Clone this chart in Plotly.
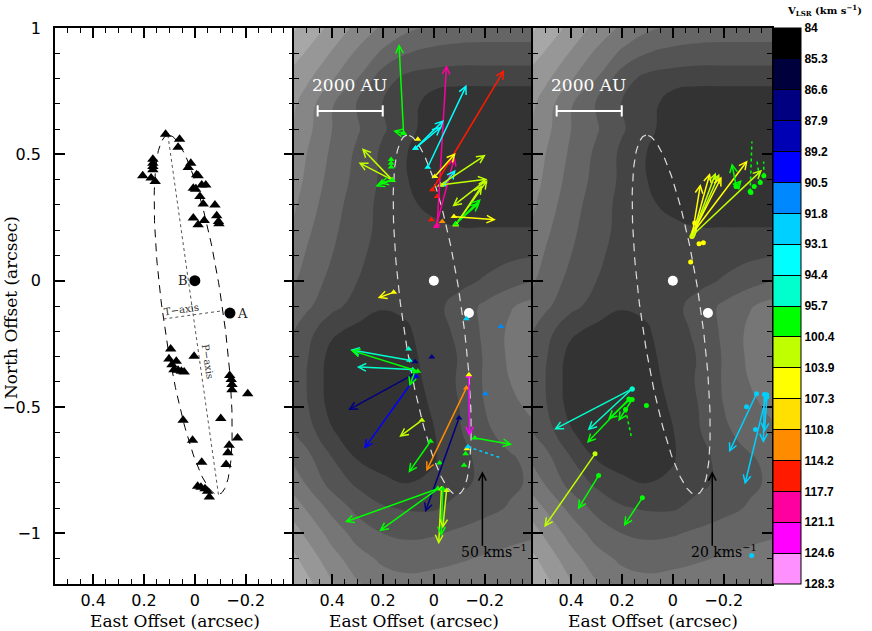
import numpy as np
import plotly.graph_objects as go

# ---------------- velocity bins / colour bar ----------------
vel_labels = ["84", "85.3", "86.6", "87.9", "89.2", "90.5", "91.8", "93.1", "94.4",
              "95.7", "100.4", "103.9", "107.3", "110.8", "114.2", "117.7", "121.1",
              "124.6", "128.3"]
bin_colors = ["#000000", "#00003c", "#000080", "#0000b4", "#0000ff", "#0088ff",
              "#00d0ff", "#00ffff", "#00ffcc", "#00ff00", "#c0ff00", "#ffff00",
              "#ffe000", "#ff8c00", "#ff1a00", "#ff00a0", "#ff00ff", "#ff90ff"]

# ---------------- left panel: maser spots (black triangles) ----------------
left_x = [0.205, 0.165, 0.165, 0.165, 0.165, 0.172, 0.156, 0.115, 0.060, 0.066,
          0.016, 0.026, -0.007, -0.013, 0.006, -0.003, -0.020, -0.033, -0.027,
          -0.043, -0.079, -0.086, -0.093, -0.095, 0.006, -0.013, -0.037,
          0.095, 0.102, 0.090, 0.073, 0.082, 0.066, 0.053, 0.042, 0.003,
          -0.137, -0.143, -0.146, -0.146, -0.208, 0.046, -0.102, 0.009, -0.027,
          -0.168, -0.135, -0.130, -0.123, -0.011, -0.024, -0.040, -0.050, -0.057]
left_y = [0.415, 0.481, 0.465, 0.452, 0.439, 0.406, 0.393, 0.580, 0.560, 0.528,
          0.465, 0.448, 0.419, 0.415, 0.366, 0.362, 0.333, 0.304, 0.379,
          0.379, 0.300, 0.257, 0.234, 0.225, 0.248, 0.221, 0.238,
          -0.270, -0.310, -0.332, -0.319, -0.352, -0.354, -0.358, -0.361, -0.299,
          -0.375, -0.391, -0.411, -0.431, -0.447, -0.552, -0.545, -0.631, -0.718,
          -0.622, -0.651, -0.681, -0.727, -0.813, -0.817, -0.823, -0.833, -0.856]

# stars A and B
star_x = [0.0, -0.138]
star_y = [0.0, -0.128]
star_names = ["B", "A"]
star_label_x = [0.046, -0.188]
star_label_y = [0.0, -0.130]

# fitted ellipse (centre, semi-axes, position angle in degrees)
ell_cx, ell_cy = 0.0065, -0.135
ell_a, ell_b = 0.718, 0.118
ell_pa = 7.96

# ---------------- background grey map (levels) ----------------
bg_x = [0.6, 0.5, 0.4, 0.3, 0.2, 0.1, 0.0, -0.1, -0.2, -0.3, -0.4]
bg_y = [1.0, 0.9, 0.8, 0.7, 0.6, 0.5, 0.4, 0.3, 0.2, 0.1, 0.0, -0.1, -0.2, -0.3,
        -0.4, -0.5, -0.6, -0.7, -0.8, -0.9, -1.0, -1.1, -1.2]
bg_z = [
    [8.0, 7.2, 6.2, 5.2, 4.3, 3.7, 3.3, 3.1, 3.0, 3.0, 3.0],
    [7.3, 6.4, 5.4, 4.3, 3.3, 2.5, 2.2, 2.1, 2.1, 2.1, 2.1],
    [6.6, 5.7, 4.6, 3.5, 1.9, 1.2, 1.0, 0.85, 0.85, 0.85, 0.85],
    [6.3, 5.0, 3.6, 2.4, 1.45, 1.0, -0.1, -0.3, -0.3, -0.3, -0.3],
    [6.1, 4.8, 3.5, 2.6, 1.6, 0.9, -0.3, -0.5, -0.5, -0.5, -0.5],
    [5.9, 4.5, 3.3, 2.3, 1.3, 0.45, -0.4, -0.5, -0.5, -0.5, -0.5],
    [5.6, 4.3, 3.1, 2.2, 1.3, 0.5, -0.3, -0.5, -0.5, -0.5, -0.5],
    [5.3, 4.0, 2.9, 2.0, 1.2, 0.7, 0.2, -0.2, -0.3, -0.3, -0.3],
    [4.9, 3.7, 2.7, 1.9, 1.2, 1.0, 0.8, 0.6, 0.6, 0.6, 0.6],
    [4.5, 3.4, 2.5, 1.7, 1.1, 1.0, 1.0, 1.0, 1.1, 1.3, 1.45],
    [4.1, 3.1, 2.2, 1.5, 1.0, 0.9, 1.0, 1.2, 1.6, 2.1, 2.5],
    [3.6, 2.7, 1.8, 1.1, 0.6, 0.7, 1.2, 1.9, 2.7, 3.4, 3.9],
    [3.1, 1.9, 0.7, 0.2, 0.0, 0.4, 1.1, 1.7, 2.7, 3.7, 4.5],
    [2.6, 1.6, 0.1, -0.2, -0.3, 0.2, 1.0, 1.55, 2.6, 3.7, 4.6],
    [2.4, 1.5, 0.0, -0.3, -0.4, 0.0, 0.9, 1.6, 2.6, 3.5, 4.3],
    [2.6, 1.6, 0.1, -0.3, -0.4, -0.3, 0.7, 1.5, 2.5, 3.2, 3.8],
    [3.0, 2.0, 0.6, -0.2, -0.4, -0.4, 0.45, 1.4, 2.3, 2.9, 3.3],
    [3.8, 2.8, 1.5, 0.4, -0.1, -0.2, 0.4, 1.3, 1.7, 2.4, 2.8],
    [4.6, 3.4, 2.1, 1.3, 0.8, 0.5, 0.7, 1.3, 1.7, 2.3, 2.7],
    [5.6, 4.4, 3.2, 2.2, 1.6, 1.4, 1.4, 1.8, 2.2, 2.6, 2.9],
    [6.5, 5.3, 4.1, 3.1, 2.5, 2.3, 2.4, 2.7, 3.0, 3.2, 3.4],
    [7.3, 6.1, 4.9, 3.9, 3.3, 3.1, 3.2, 3.4, 3.6, 3.8, 3.9],
    [8.0, 6.8, 5.6, 4.6, 4.0, 3.8, 3.9, 4.0, 4.2, 4.4, 4.5],
]

# ---------------- middle panel: proper motions (tail -> head, velocity bin) ----------------
mid_x0 = [0.119, 0.119, -0.013, -0.009, 0.006, 0.072, 0.072, 0.024, -0.040, -0.004,
          -0.026, -0.026, -0.198, -0.086, -0.086, -0.086, -0.086, -0.079, 0.164, 0.164,
          0.164, 0.164, 0.096, 0.083, 0.063, 0.083, 0.070, 0.075, 0.047, 0.013,
          -0.128, -0.137, -0.099, -0.161, -0.016, -0.016, -0.030, -0.035, -0.050, 0.158]
mid_y0 = [0.584, 0.584, 0.221, 0.215, 0.360, 0.524, 0.524, 0.449, 0.379, 0.412,
          0.379, 0.379, 0.392, 0.221, 0.221, 0.225, 0.225, 0.254, 0.399, 0.399,
          0.399, 0.399, -0.315, -0.352, -0.358, -0.372, -0.378, -0.360, -0.552, -0.635,
          -0.424, -0.378, -0.543, -0.622, -0.823, -0.823, -0.823, -0.823, -0.830, -0.046]
mid_x1 = [0.137, 0.160, -0.050, -0.082, -0.277, -0.040, -0.030, -0.129, -0.086, -0.086,
          -0.204, -0.211, -0.073, -0.211, -0.191, -0.185, -0.180, -0.244, 0.283, 0.296,
          0.230, 0.215, 0.329, 0.303, 0.327, 0.337, 0.274, 0.096, 0.136, 0.100,
          0.030, -0.141, 0.034, -0.308, 0.350, 0.215, -0.019, -0.029, -0.035, 0.221]
mid_y1 = [0.937, 0.593, 0.854, 0.491, 0.834, 0.636, 0.610, 0.775, 0.439, 0.505,
          0.498, 0.402, 0.294, 0.399, 0.379, 0.323, 0.310, 0.241, 0.524, 0.468,
          0.373, 0.385, -0.273, -0.341, -0.275, -0.512, -0.665, -0.418, -0.618, -0.760,
          -0.754, -0.615, -0.916, -0.648, -0.955, -0.991, -1.043, -1.011, -0.980, -0.068]
mid_bin = [9, 9, 15, 15, 14, 7, 7, 7, 7, 11,
           10, 10, 10, 10, 10, 9, 9, 11, 10, 10,
           9, 9, 8, 8, 9, 2, 4, 9, 10, 9,
           13, 16, 2, 9, 9, 9, 10, 9, 10, 11]
# dotted middle-panel arrow
mid_dot_x0, mid_dot_y0, mid_dot_x1, mid_dot_y1, mid_dot_bin = [-0.134], [-0.657], [-0.264], [-0.701], [6]
# spots without a plotted motion
mid_spot_x = [0.063, -0.013, 0.010, -0.033, 0.168, 0.168, 0.168, 0.099, 0.008, 0.074,
              -0.203, -0.138, -0.130, -0.125, -0.119, -0.023, -0.128, -0.264, -0.134]
mid_spot_y = [0.560, 0.333, 0.241, 0.234, 0.450, 0.465, 0.480, -0.270, -0.302, -0.321,
              -0.447, -0.372, -0.665, -0.685, -0.730, -0.721, -0.150, -0.181, -0.657]
mid_spot_bin = [11, 14, 14, 13, 9, 9, 9, 8, 2, 2,
                5, 11, 11, 9, 9, 9, 6, 5, 6]

# ---------------- right panel: proper motions ----------------
rt_x0 = [-0.075, -0.080, -0.078, -0.082, -0.085, -0.083, -0.078, -0.249, -0.249,
         0.160, 0.160, 0.173, 0.170, 0.160, 0.306, 0.292, 0.120,
         -0.329, -0.369, -0.360, -0.370]
rt_y0 = [0.175, 0.185, 0.180, 0.190, 0.200, 0.195, 0.180, 0.373, 0.373,
         -0.428, -0.428, -0.468, -0.470, -0.470, -0.685, -0.771, -0.859,
         -0.447, -0.451, -0.450, -0.460]
rt_x1 = [-0.109, -0.146, -0.169, -0.183, -0.192, -0.294, -0.351, -0.232, -0.271,
         0.467, 0.335, 0.338, 0.255, 0.215, 0.506, 0.374, 0.193,
         -0.221, -0.283, -0.356, -0.360]
rt_y1 = [0.383, 0.426, 0.428, 0.423, 0.412, 0.476, 0.439, 0.465, 0.399,
         -0.589, -0.592, -0.642, -0.549, -0.556, -0.975, -0.905, -0.971,
         -0.679, -0.806, -0.642, -0.600]
rt_bin = [11, 11, 10, 10, 11, 11, 10, 9, 9,
          8, 8, 9, 9, 9, 10, 9, 9,
          6, 6, 6, 6]
rt_dot_x0 = [-0.304, -0.344, -0.358, 0.186]
rt_dot_y0 = [0.353, 0.389, 0.415, -0.510]
rt_dot_x1 = [-0.311, -0.331, -0.357, 0.163]
rt_dot_y1 = [0.551, 0.472, 0.472, -0.618]
rt_dot_bin = [9, 9, 9, 9]
rt_spot_x = [-0.103, -0.120, -0.070, -0.320, -0.307, 0.104, -0.290, -0.325, -0.310, -0.086]
rt_spot_y = [0.146, 0.150, 0.074, 0.373, 0.349, -0.494, -0.499, -0.589, -1.087, 0.228]
rt_spot_bin = [11, 11, 11, 9, 9, 9, 6, 6, 6, 11]

# scale bars and velocity scale arrows
au_bar_x = [0.457, 0.201]
au_bar_y = [0.672, 0.672]
au_text_pos = (0.330, 0.775)
vscale_x = [-0.191, -0.155]
vscale_y0 = [-1.055, -1.055]
vscale_y1 = [-0.754, -0.754]
vscale_text = ["50 kms<sup>−1</sup>", "20 kms<sup>−1</sup>"]
vscale_text_x = [-0.237, -0.201]
vscale_text_y = [-1.071, -1.071]

# ---------------- build figure ----------------
fig = go.Figure()

# ellipse geometry
th = np.radians(ell_pa)
u = np.array([np.sin(th), np.cos(th)])    # major-axis direction
v = np.array([np.cos(th), -np.sin(th)])   # minor-axis direction
t = np.linspace(0, 2 * np.pi, 241)
ex = ell_cx + ell_a * np.cos(t) * u[0] + ell_b * np.sin(t) * v[0]
ey = ell_cy + ell_a * np.cos(t) * u[1] + ell_b * np.sin(t) * v[1]
p_ax = [ell_cx + ell_a * u[0], ell_cx - ell_a * u[0]]
p_ay = [ell_cy + ell_a * u[1], ell_cy - ell_a * u[1]]
t_ax = [ell_cx + ell_b * v[0], ell_cx - ell_b * v[0]]
t_ay = [ell_cy + ell_b * v[1], ell_cy - ell_b * v[1]]

# background contours (middle and right panels)
zz = np.array(bg_z)[::-1, ::-1]
xx = bg_x[::-1]
yy = bg_y[::-1]
for xa, ya in (("x2", "y2"), ("x3", "y3")):
    fig.add_trace(go.Contour(
        x=xx, y=yy, z=zz, xaxis=xa, yaxis=ya,
        colorscale=[[0, "#333333"], [1, "#b8b8b8"]],
        autocontour=False,
        contours=dict(start=0.5, end=7.5, size=1, coloring="fill", showlines=False),
        line=dict(width=0, smoothing=1.3),
        showscale=False, hoverinfo="skip"))

# left panel
fig.add_trace(go.Scatter(x=ex, y=ey, mode="lines", xaxis="x", yaxis="y",
                         line=dict(color="black", width=1, dash="8px,6px"), hoverinfo="skip"))
fig.add_trace(go.Scatter(x=p_ax, y=p_ay, mode="lines", xaxis="x", yaxis="y",
                         line=dict(color="#555555", width=1, dash="dot"), hoverinfo="skip"))
fig.add_trace(go.Scatter(x=t_ax, y=t_ay, mode="lines", xaxis="x", yaxis="y",
                         line=dict(color="#555555", width=1, dash="dot"), hoverinfo="skip"))
fig.add_trace(go.Scatter(x=left_x, y=left_y, mode="markers", xaxis="x", yaxis="y",
                         marker=dict(symbol="triangle-up", size=10, color="black"), hoverinfo="skip"))
fig.add_trace(go.Scatter(x=star_x, y=star_y, mode="markers", xaxis="x", yaxis="y",
                         marker=dict(symbol="circle", size=11, color="black"), hoverinfo="skip"))

# middle & right common elements
for xa, ya in (("x2", "y2"), ("x3", "y3")):
    fig.add_trace(go.Scatter(x=ex, y=ey, mode="lines", xaxis=xa, yaxis=ya,
                             line=dict(color="#dddddd", width=1.2, dash="8px,6px"), hoverinfo="skip"))
    fig.add_trace(go.Scatter(x=star_x, y=star_y, mode="markers", xaxis=xa, yaxis=ya,
                             marker=dict(symbol="circle", size=10, color="white"), hoverinfo="skip"))
    fig.add_trace(go.Scatter(x=au_bar_x, y=au_bar_y, mode="lines+markers", xaxis=xa, yaxis=ya,
                             line=dict(color="white", width=2),
                             marker=dict(symbol="line-ns", size=8, line=dict(color="white", width=2)),
                             hoverinfo="skip"))

# dotted arrow shafts
for (x0s, y0s, x1s, y1s, bins, xa, ya) in (
        (mid_dot_x0, mid_dot_y0, mid_dot_x1, mid_dot_y1, mid_dot_bin, "x2", "y2"),
        (rt_dot_x0, rt_dot_y0, rt_dot_x1, rt_dot_y1, rt_dot_bin, "x3", "y3")):
    for x0, y0, x1, y1, b in zip(x0s, y0s, x1s, y1s, bins):
        fig.add_trace(go.Scatter(x=[x0, x1], y=[y0, y1], mode="lines", xaxis=xa, yaxis=ya,
                                 line=dict(color=bin_colors[b], width=1.5, dash="dot"),
                                 hoverinfo="skip"))

# spot markers
fig.add_trace(go.Scatter(
    x=mid_x0 + mid_spot_x, y=mid_y0 + mid_spot_y, mode="markers", xaxis="x2", yaxis="y2",
    marker=dict(symbol="triangle-up", size=6, color=[bin_colors[b] for b in mid_bin + mid_spot_bin]),
    hoverinfo="skip"))
fig.add_trace(go.Scatter(
    x=rt_x0 + rt_dot_x0 + rt_spot_x, y=rt_y0 + rt_dot_y0 + rt_spot_y, mode="markers",
    xaxis="x3", yaxis="y3",
    marker=dict(symbol="circle", size=5,
                color=[bin_colors[b] for b in rt_bin + rt_dot_bin + rt_spot_bin]),
    hoverinfo="skip"))

# colour bar (dummy trace)
cs = []
for k in range(18):
    c = bin_colors[17 - k]
    cs.append([k / 18, c])
    cs.append([(k + 1) / 18, c])
fig.add_trace(go.Scatter(
    x=[10, 10], y=[10, 10], mode="markers", xaxis="x", yaxis="y", hoverinfo="skip",
    marker=dict(color=[0, 18], cmin=0, cmax=18, colorscale=cs, showscale=True, opacity=0,
                colorbar=dict(x=(773 - 55) / 717, xanchor="left", xpad=0, ypad=0,
                              y=0.5, yanchor="middle", len=1, lenmode="fraction",
                              thickness=28, outlinewidth=1, outlinecolor="black",
                              tickvals=list(range(19)),
                              ticktext=[vel_labels[18 - k] for k in range(19)],
                              ticks="inside", ticklen=28, tickwidth=1, tickcolor="black",
                              tickprefix="\u00a0\u00a0\u00a0",
                              tickfont=dict(family="Liberation Sans", size=12, color="black",
                                            weight="bold")))))

annotations = []


def arrow(x0, y0, x1, y1, color, xa, ya, width=1.5, size=1.0):
    annotations.append(dict(
        x=x1, y=y1, ax=x0, ay=y0, xref=xa, yref=ya, axref=xa, ayref=ya,
        text="", showarrow=True, arrowhead=5, arrowsize=size, arrowwidth=width,
        arrowcolor=color, standoff=0, startstandoff=0))


for x0, y0, x1, y1, b in zip(mid_x0, mid_y0, mid_x1, mid_y1, mid_bin):
    arrow(x0, y0, x1, y1, bin_colors[b], "x2", "y2")
for x0, y0, x1, y1, b in zip(rt_x0, rt_y0, rt_x1, rt_y1, rt_bin):
    arrow(x0, y0, x1, y1, bin_colors[b], "x3", "y3")
for (x0s, y0s, x1s, y1s, bins, xa, ya) in (
        (mid_dot_x0, mid_dot_y0, mid_dot_x1, mid_dot_y1, mid_dot_bin, "x2", "y2"),
        (rt_dot_x0, rt_dot_y0, rt_dot_x1, rt_dot_y1, rt_dot_bin, "x3", "y3")):
    for x0, y0, x1, y1, b in zip(x0s, y0s, x1s, y1s, bins):
        arrow(x0 + 0.92 * (x1 - x0), y0 + 0.92 * (y1 - y0), x1, y1, bin_colors[b], xa, ya)

# velocity scale arrows and labels
for i, (xa, ya) in enumerate((("x2", "y2"), ("x3", "y3"))):
    arrow(vscale_x[i], vscale_y0[i], vscale_x[i], vscale_y1[i], "black", xa, ya, width=1.5)
    annotations.append(dict(x=vscale_text_x[i], y=vscale_text_y[i], xref=xa, yref=ya,
                            text=vscale_text[i], showarrow=False,
                            font=dict(family="DejaVu Serif", size=14, color="black")))
    annotations.append(dict(x=au_text_pos[0], y=au_text_pos[1], xref=xa, yref=ya,
                            text="2000 AU", showarrow=False,
                            font=dict(family="DejaVu Serif", size=17, color="white")))

# star labels and axis labels in left panel
for nm, lx, ly in zip(star_names, star_label_x, star_label_y):
    annotations.append(dict(x=lx, y=ly, xref="x", yref="y", text=nm, showarrow=False,
                            xanchor="center",
                            font=dict(family="DejaVu Serif", size=13, color="#222222")))
annotations.append(dict(x=0.051, y=-0.115, xref="x", yref="y", text="T−axis", showarrow=False,
                        textangle=-8, font=dict(family="DejaVu Serif", size=10, color="#333333")))
annotations.append(dict(x=-0.050, y=-0.320, xref="x", yref="y", text="P−axis", showarrow=False,
                        textangle=82, font=dict(family="DejaVu Serif", size=10, color="#333333")))

# axis titles
for cx in (1 / 6, 1 / 2, 5 / 6):
    annotations.append(dict(x=cx, y=(584 - 620.5) / 556, xref="paper", yref="paper",
                            text="East Offset (arcsec)", showarrow=False,
                            xanchor="center", yanchor="middle",
                            font=dict(family="DejaVu Serif", size=17, color="black")))
annotations.append(dict(x=(11 - 55) / 717, y=(584 - 308) / 556, xref="paper", yref="paper",
                        text="North Offset (arcsec)", showarrow=False, textangle=-90,
                        xanchor="center", yanchor="middle",
                        font=dict(family="DejaVu Serif", size=17, color="black")))
annotations.append(dict(x=(824 - 55) / 717, y=(584 - 11) / 556, xref="paper", yref="paper",
                        text="<b>V<sub>LSR</sub> (km s<sup>−1</sup>)</b>", showarrow=False,
                        xanchor="center", yanchor="middle",
                        font=dict(family="DejaVu Serif", size=10, color="black")))


def xaxis(domain, anchor):
    return dict(domain=domain, anchor=anchor, range=[0.55, -0.39], tick0=0, dtick=0.2,
                ticks="inside", ticklen=10, tickwidth=1.5, tickcolor="black",
                minor=dict(dtick=0.05, ticklen=5, tickwidth=1, ticks="inside", tickcolor="black"),
                mirror="ticks", showline=True, linecolor="black", linewidth=1.5,
                showgrid=False, zeroline=False, ticklabelstandoff=1, automargin=False,
                tickfont=dict(family="DejaVu Sans", size=16, color="black"))


def yaxis(anchor, labels):
    return dict(domain=[0, 1], anchor=anchor, range=[-1.2, 1], tick0=0, dtick=0.5,
                ticks="inside", ticklen=10, tickwidth=1.5, tickcolor="black",
                minor=dict(dtick=0.1, ticklen=5, tickwidth=1, ticks="inside", tickcolor="black"),
                mirror="ticks", showline=True, linecolor="black", linewidth=1.5,
                showgrid=False, zeroline=False, showticklabels=labels, ticklabelstandoff=9,
                automargin=False,
                tickfont=dict(family="DejaVu Sans", size=16, color="black"))


fig.update_layout(
    width=872, height=631,
    margin=dict(l=55, r=100, t=28, b=47, autoexpand=False),
    paper_bgcolor="white", plot_bgcolor="white",
    showlegend=False,
    xaxis=xaxis([0, 1 / 3], "y"),
    xaxis2=xaxis([1 / 3, 2 / 3], "y2"),
    xaxis3=xaxis([2 / 3, 1], "y3"),
    yaxis=yaxis("x", True),
    yaxis2=yaxis("x2", False),
    yaxis3=yaxis("x3", False),
    annotations=annotations,
)

# remove the default 8 px page margin so the figure fills the window exactly
fig.write_html("out.html", config={"displayModeBar": False},
               post_script="document.body.style.margin='0px';")
